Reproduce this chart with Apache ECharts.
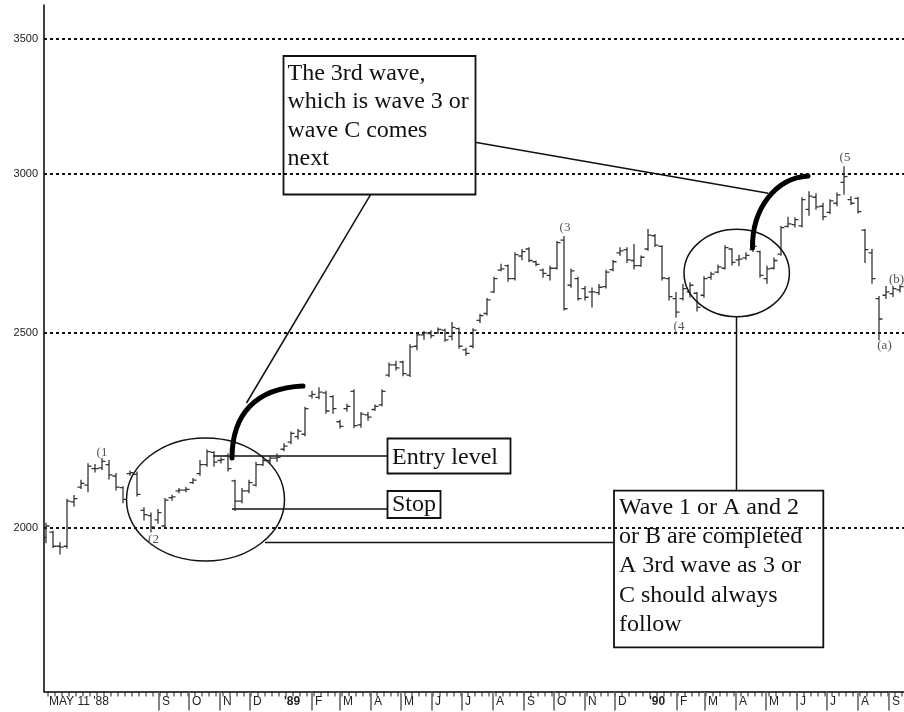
<!DOCTYPE html>
<html>
<head>
<meta charset="utf-8">
<style>
  html, body { margin: 0; padding: 0; background: #fff; }
  #chart { width: 904px; height: 712px; }
</style>
<script src="https://cdn.jsdelivr.net/npm/echarts@6/dist/echarts.min.js"></script>
</head>
<body>
<div id="chart"></div>
<script>
// Dow Jones Industrials, weekly OHLC bars, May 1988 - Sep 1990
const firstWeek = '1988-05-11';

const openP = [
  1978, 1990, 1958, 1958, 2060, 2095, 2100, 2140, 2142, 2150,
  2122, 2094, 2128, 2126, 2040, 2028, 2018, 2004, 2070, 2086,
  2088, 2106, 2128, 2150, 2180, 2160, 2172, 2110, 2062, 2086,
  2100, 2150, 2160, 2166, 2188, 2206, 2220, 2226, 2326, 2322,
  2334, 2324, 2258, 2292, 2338, 2250, 2276, 2290, 2302, 2382,
  2410, 2418, 2382, 2462, 2494, 2498, 2500, 2508, 2490, 2512,
  2452, 2462, 2536, 2556, 2620, 2686, 2700, 2660, 2730, 2752,
  2712, 2686, 2670, 2692, 2780, 2640, 2660, 2630, 2620, 2618,
  2636, 2688, 2740, 2750, 2716, 2700, 2752, 2794, 2760, 2660,
  2600, 2600, 2620, 2616, 2610, 2664, 2680, 2692, 2752, 2718,
  2724, 2750, 2744, 2660, 2692, 2736, 2824, 2830, 2826, 2880,
  2920, 2890, 2870, 2900, 2970, 2912, 2916, 2812, 2740, 2600,
  2610, 2615, 2626
];
const highP = [
  2010, 1992, 1966, 2066, 2075, 2112, 2152, 2150, 2165, 2160,
  2128, 2096, 2134, 2132, 2046, 2034, 2042, 2068, 2076, 2092,
  2094, 2116, 2160, 2186, 2182, 2166, 2176, 2112, 2092, 2112,
  2156, 2168, 2172, 2176, 2202, 2232, 2238, 2296, 2338, 2348,
  2338, 2326, 2262, 2304, 2342, 2282, 2282, 2302, 2342, 2415,
  2420, 2420, 2466, 2500, 2504, 2506, 2514, 2510, 2530, 2514,
  2456, 2512, 2554, 2600, 2664, 2704, 2702, 2740, 2750, 2756,
  2714, 2690, 2698, 2776, 2792, 2690, 2664, 2636, 2632, 2642,
  2686, 2716, 2756, 2756, 2766, 2730, 2814, 2798, 2762, 2664,
  2618, 2642, 2648, 2618, 2666, 2680, 2702, 2762, 2752, 2732,
  2740, 2766, 2746, 2698, 2724, 2824, 2854, 2852, 2918, 2938,
  2932, 2900, 2912, 2934, 3024, 2922, 2920, 2814, 2750, 2606,
  2636, 2636, 2640
];
const lowP = [
  1966, 1955, 1941, 1954, 2050, 2092, 2084, 2132, 2138, 2115,
  2088, 2058, 2124, 2074, 2018, 1990, 2010, 2000, 2064, 2082,
  2084, 2104, 2124, 2146, 2146, 2154, 2134, 2040, 2058, 2082,
  2098, 2148, 2154, 2158, 2184, 2202, 2214, 2222, 2320, 2318,
  2280, 2280, 2242, 2286, 2243, 2244, 2262, 2288, 2300, 2378,
  2396, 2380, 2378, 2452, 2482, 2486, 2498, 2476, 2480, 2456,
  2437, 2458, 2530, 2552, 2618, 2684, 2652, 2656, 2718, 2712,
  2700, 2664, 2656, 2690, 2566, 2634, 2596, 2596, 2575, 2612,
  2632, 2684, 2732, 2710, 2690, 2698, 2748, 2760, 2656, 2596,
  2545, 2596, 2605, 2563, 2604, 2658, 2678, 2690, 2702, 2700,
  2720, 2744, 2664, 2646, 2690, 2732, 2822, 2822, 2822, 2860,
  2880, 2846, 2866, 2892, 2930, 2896, 2868, 2710, 2646, 2480,
  2600, 2606, 2620
];
const closeP = [
  2004, 1958, 1956, 2062, 2068, 2104, 2146, 2140, 2158, 2125,
  2095, 2066, 2130, 2078, 2030, 2002, 2035, 2064, 2072, 2088,
  2090, 2112, 2150, 2182, 2156, 2162, 2140, 2062, 2086, 2106,
  2150, 2160, 2166, 2168, 2196, 2228, 2234, 2292, 2330, 2336,
  2286, 2292, 2246, 2298, 2248, 2278, 2270, 2298, 2338, 2410,
  2402, 2386, 2460, 2494, 2500, 2492, 2510, 2480, 2516, 2462,
  2442, 2508, 2550, 2596, 2660, 2690, 2660, 2734, 2744, 2716,
  2704, 2676, 2692, 2772, 2570, 2684, 2600, 2604, 2620, 2634,
  2680, 2712, 2746, 2718, 2700, 2726, 2796, 2764, 2662, 2606,
  2560, 2630, 2640, 2574, 2660, 2674, 2696, 2756, 2710, 2720,
  2732, 2760, 2670, 2690, 2716, 2820, 2832, 2846, 2912, 2924,
  2888, 2856, 2908, 2928, 2990, 2900, 2872, 2750, 2660, 2540,
  2620, 2630, 2636
];

// horizontal reference levels and trade levels
const gridLevels = [2000, 2500, 3000, 3500];
const entryLevel = 2172;
const stopLevel = 2045;

// month separators and axis labels
const monthTicks = [
  '1988-09-01', '1988-10-01', '1988-11-01', '1988-12-01',
  '1989-02-01', '1989-03-01', '1989-04-01', '1989-05-01', '1989-06-01', '1989-07-01',
  '1989-08-01', '1989-09-01', '1989-10-01', '1989-11-01', '1989-12-01',
  '1990-02-01', '1990-03-01', '1990-04-01', '1990-05-01', '1990-06-01', '1990-07-01',
  '1990-08-01', '1990-09-01'
];
const axisLabels = [
  ['1988-05-11', "MAY 11 '88", 0], ['1988-09-01', 'S', 0], ['1988-10-01', 'O', 0],
  ['1988-11-01', 'N', 0], ['1988-12-01', 'D', 0], ['1989-01-01', "'89", 1],
  ['1989-02-01', 'F', 0], ['1989-03-01', 'M', 0], ['1989-04-01', 'A', 0],
  ['1989-05-01', 'M', 0], ['1989-06-01', 'J', 0], ['1989-07-01', 'J', 0],
  ['1989-08-01', 'A', 0], ['1989-09-01', 'S', 0], ['1989-10-01', 'O', 0],
  ['1989-11-01', 'N', 0], ['1989-12-01', 'D', 0], ['1990-01-01', "'90", 1],
  ['1990-02-01', 'F', 0], ['1990-03-01', 'M', 0], ['1990-04-01', 'A', 0],
  ['1990-05-01', 'M', 0], ['1990-06-01', 'J', 0], ['1990-07-01', 'J', 0],
  ['1990-08-01', 'A', 0], ['1990-09-01', 'S', 0]
];

const X_MIN = '1988-05-09';
const X_MAX = '1990-09-16';
const Y_MIN = 1658;
const Y_MAX = 3639;

const SERIF = '"Liberation Serif", "Times New Roman", serif';
const SANS = '"Liberation Sans", Arial, sans-serif';

function day(s) {
  const p = s.split('-').map(Number);
  return new Date(p[0], p[1] - 1, p[2]).getTime();
}
function addDays(s, n) {
  const p = s.split('-').map(Number);
  return new Date(p[0], p[1] - 1, p[2] + n).getTime();
}

const weekTimes = openP.map((_, i) => addDays(firstWeek, 7 * i));
const barData = weekTimes.map((t, i) => [t, openP[i], highP[i], lowP[i], closeP[i]]);

const tickData = weekTimes.map((t) => [t + 2 * 86400000, Y_MIN, 0])
  .concat(monthTicks.map((s) => [day(s), Y_MIN, 1]));
const labelData = axisLabels.map((a) => [day(a[0]), Y_MIN, a[2]]);

const BAR_COLOR = '#333';

function renderBar(params, api) {
  const t = api.value(0);
  const x = api.coord([t, api.value(1)])[0];
  const yO = api.coord([t, api.value(1)])[1];
  const yH = api.coord([t, api.value(2)])[1];
  const yL = api.coord([t, api.value(3)])[1];
  const yC = api.coord([t, api.value(4)])[1];
  const st = { stroke: BAR_COLOR, lineWidth: 1.3 };
  return {
    type: 'group',
    children: [
      { type: 'line', shape: { x1: x, y1: yH - 0.5, x2: x, y2: yL + 0.5 }, style: st },
      { type: 'line', shape: { x1: x - 3.5, y1: yO, x2: x, y2: yO }, style: st },
      { type: 'line', shape: { x1: x, y1: yC, x2: x + 3.5, y2: yC }, style: st }
    ]
  };
}

function renderTick(params, api) {
  const x = api.coord([api.value(0), Y_MIN])[0];
  const base = params.coordSys.y + params.coordSys.height;
  const major = api.value(2) === 1;
  return {
    type: 'line',
    shape: { x1: x, y1: base + 0.5, x2: x, y2: base + (major ? 19 : 5) },
    style: { stroke: major ? '#666' : '#222', lineWidth: major ? 1.6 : 1 }
  };
}

function renderLabel(params, api) {
  const x = api.coord([api.value(0), Y_MIN])[0];
  const base = params.coordSys.y + params.coordSys.height;
  const bold = api.value(2) === 1;
  return {
    type: 'text',
    x: x + 3,
    y: base + 4,
    style: {
      text: axisLabels[params.dataIndex][1],
      fill: '#222',
      font: (bold ? 'bold ' : '') + '12px ' + SANS,
      align: 'left',
      verticalAlign: 'top'
    }
  };
}

// annotation drawing helpers
const INK = '#111';
function boxText(lines, x, y0, step) {
  return lines.map((s, k) => ({
    type: 'text', x: x, y: y0 + k * step, z: 20,
    style: { text: s, fill: INK, font: '24px ' + SERIF, verticalAlign: 'middle', align: 'left' }
  }));
}
function waveLabel(s, x, y) {
  return {
    type: 'text', x: x, y: y, z: 20,
    style: { text: s, fill: '#555', font: '13px ' + SERIF, align: 'center', verticalAlign: 'middle' }
  };
}
function seg(x1, y1, x2, y2, w) {
  return { type: 'line', z: 20, shape: { x1, y1, x2, y2 }, style: { stroke: INK, lineWidth: w || 1.5 } };
}
function box(x, y, w, h) {
  return { type: 'rect', z: 20, shape: { x, y, width: w, height: h }, style: { fill: 'none', stroke: INK, lineWidth: 1.8 } };
}
function ring(cx, cy, rx, ry) {
  return { type: 'ellipse', z: 20, shape: { cx, cy, rx, ry }, style: { fill: 'none', stroke: INK, lineWidth: 1.5 } };
}
function arcStroke(x1, y1, c1x, c1y, c2x, c2y, x2, y2) {
  return {
    type: 'bezierCurve', z: 21,
    shape: { x1, y1, cpx1: c1x, cpy1: c1y, cpx2: c2x, cpy2: c2y, x2, y2 },
    style: { fill: 'none', stroke: '#000', lineWidth: 5, lineCap: 'round' }
  };
}

const graphics = [].concat(
  [
    box(283.5, 56, 192, 138.5),
    box(387.5, 438.5, 123, 35),
    box(387.5, 491, 53, 27),
    box(614, 490.7, 209.3, 156.6),
    ring(205.5, 499.5, 79, 61.5),
    ring(736.7, 273, 52.7, 43.7),
    seg(370.7, 194.3, 246.5, 403),
    seg(475, 142.3, 768.3, 193.3),
    seg(736.5, 316.7, 736.5, 490.7),
    seg(265, 542.5, 614, 542.5),
    arcStroke(232, 458, 232, 414, 256, 388, 303, 386),
    arcStroke(752.5, 248, 752, 208, 776, 178, 808, 176)
  ],
  boxText(['The 3rd wave,', 'which is wave 3 or', 'wave C comes', 'next'], 287.5, 73.6, 28.35),
  boxText(['Entry level'], 392, 458, 0),
  boxText(['Stop'], 392, 505, 0),
  boxText(['Wave 1 or A and 2', 'or B are completed', 'A 3rd wave as 3 or', 'C should always', 'follow'], 619, 508, 29.1),
  [
    waveLabel('(1', 102, 452.5),
    waveLabel('(2', 153.5, 540),
    waveLabel('(3', 565, 227.5),
    waveLabel('(4', 679, 326.5),
    waveLabel('(5', 845, 157.5),
    waveLabel('(a)', 884.5, 345.5),
    waveLabel('(b)', 896.5, 279.5)
  ]
);

const chart = echarts.init(document.getElementById('chart'), null, { renderer: 'canvas' });
chart.setOption({
  animation: false,
  backgroundColor: '#fff',
  grid: { left: 44, top: 5, width: 860, height: 686.5, containLabel: false },
  xAxis: {
    type: 'time',
    min: day(X_MIN),
    max: day(X_MAX),
    axisLine: { show: true, onZero: false, lineStyle: { color: '#000', width: 1.5 } },
    axisTick: { show: false },
    axisLabel: { show: false },
    splitLine: { show: false }
  },
  yAxis: {
    type: 'log',
    logBase: 10,
    min: Y_MIN,
    max: Y_MAX,
    axisLine: { show: true, lineStyle: { color: '#000', width: 1.5 } },
    axisTick: { show: false },
    axisLabel: { show: false },
    splitLine: { show: false },
    minorSplitLine: { show: false }
  },
  series: [
    {
      name: 'DJIA',
      type: 'custom',
      renderItem: renderBar,
      data: barData,
      encode: { x: 0, y: [1, 2, 3, 4] },
      clip: true,
      silent: true,
      z: 5,
      markLine: {
        silent: true,
        symbol: 'none',
        animation: false,
        lineStyle: { type: [3, 3], color: '#111', width: 2 },
        label: {
          show: true,
          position: 'start',
          distance: 6,
          color: '#222',
          fontFamily: SANS,
          fontSize: 11,
          formatter: (p) => String(p.value)
        },
        emphasis: { disabled: true },
        data: gridLevels.map((v) => ({ yAxis: v }))
      }
    },
    {
      name: 'axisTicks',
      type: 'custom',
      renderItem: renderTick,
      data: tickData,
      encode: { x: 0, y: 1 },
      clip: false,
      silent: true,
      z: 6,
      markLine: {
        silent: true,
        symbol: 'none',
        animation: false,
        label: { show: false },
        lineStyle: { type: 'solid', color: '#111', width: 1.5 },
        emphasis: { disabled: true },
        data: [
          [{ coord: [day('1988-10-25'), entryLevel] }, { coord: [day('1989-04-17'), entryLevel] }],
          [{ coord: [day('1988-11-13'), stopLevel] }, { coord: [day('1989-04-17'), stopLevel] }]
        ]
      }
    },
    {
      name: 'axisLabels',
      type: 'custom',
      renderItem: renderLabel,
      data: labelData,
      encode: { x: 0, y: 1 },
      clip: false,
      silent: true,
      z: 6
    }
  ],
  graphic: graphics
});
</script>
</body>
</html>
